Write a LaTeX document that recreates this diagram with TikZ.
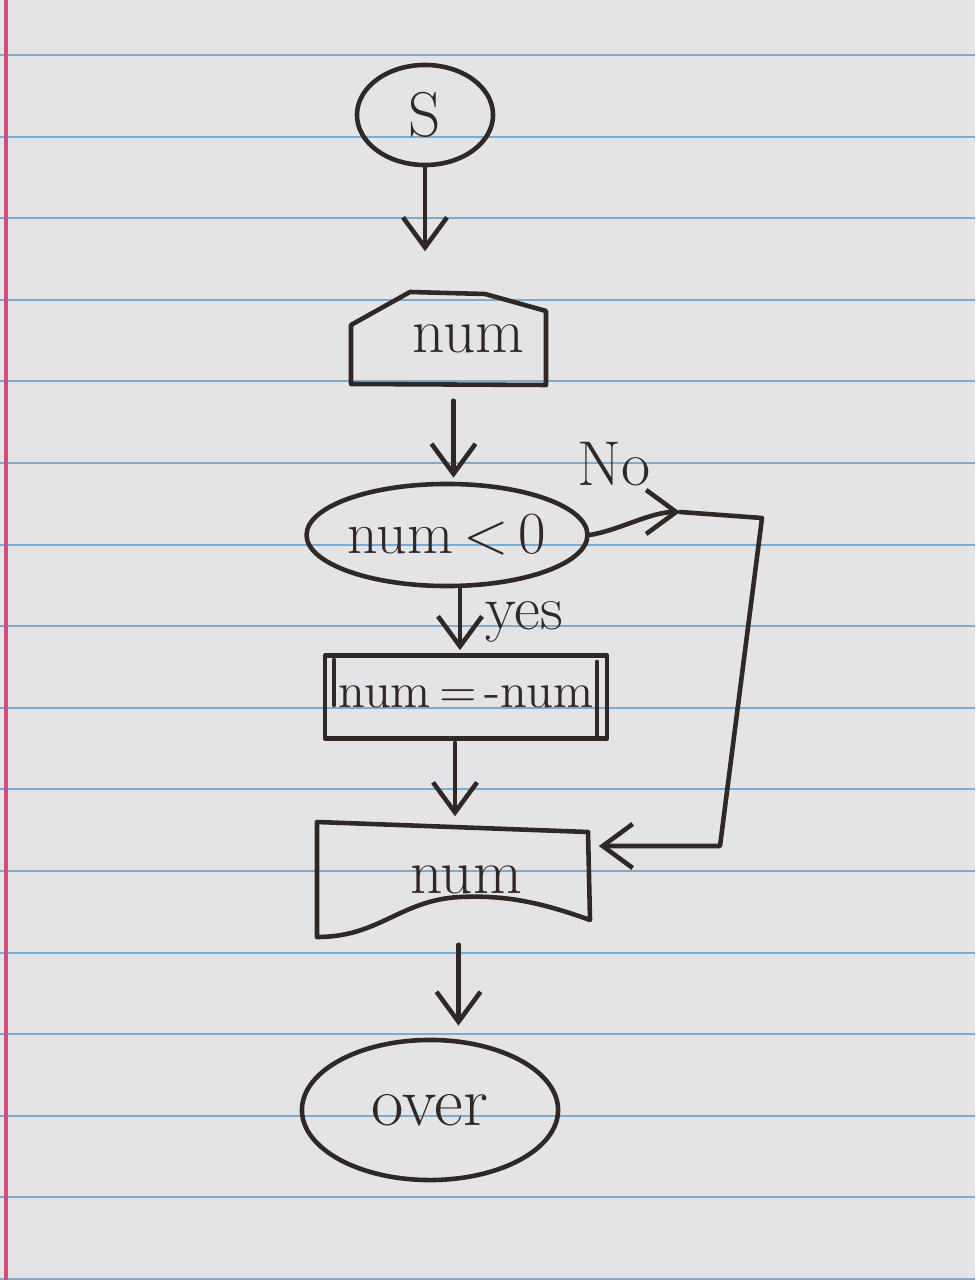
\documentclass[tikz,border=0pt]{standalone}
\usetikzlibrary{arrows.meta,shapes.geometric,calc}
\definecolor{paper}{RGB}{228,228,230}
\definecolor{rulecol}{RGB}{125,170,208}
\definecolor{margincol}{RGB}{205,80,128}
\definecolor{ink}{RGB}{48,40,38}
\tikzset{
  inkline/.style={draw=ink, line width=1.3pt, line join=round, line cap=round},
  term/.style={ellipse, inkline, inner sep=0pt, text=ink},
  txt/.style={text=ink, font=\fontsize{18}{22}\selectfont},
  arr/.style={inkline, -{Straight Barb[length=3mm,width=4.4mm]}},
}
\begin{document}
\begin{tikzpicture}[x=0.01cm,y=-0.01cm]
\useasboundingbox (0,0) rectangle (975,1280);
\fill[paper] (0,0) rectangle (975,1280);
\foreach \k in {0,...,15} \draw[rulecol, line width=0.6pt] (0,55+81.6*\k) -- (975,55+81.6*\k);
\draw[margincol, line width=1pt] (6,0) -- (6,1280);

% start
\node[term, txt, minimum width=1.36cm, minimum height=1.0cm] (start) at (425,115) {S};

% input
\node[txt, minimum width=1.95cm, minimum height=0.93cm, inner sep=0pt] (in) at (448.5,338.5) {\hspace{0.4cm}num};
\draw[inkline] (351,325) -- (410,292) -- (485,294) -- (546,311) -- (546,385) -- (351,384) -- cycle;

% decision
\node[term, txt, font=\fontsize{17}{20}\selectfont, minimum width=2.8cm, minimum height=1.02cm] (dec) at (447,535) {num\,<\,0};

% process
\node[inkline, rectangle, text=ink, font=\fontsize{14}{17}\selectfont, minimum width=2.82cm, minimum height=0.83cm, inner sep=0pt] (proc) at (466,697) {num\,=\,-num};
\draw[inkline] (597,662) -- (597,735);
\draw[inkline] (334,660) -- (334,705);

% output (document)
\node[txt, minimum width=2.73cm, minimum height=1.15cm, inner sep=0pt] (out) at (453.5,879.5) {\hspace{0.25cm}num};
\draw[inkline] (317,822) -- (588,832) -- (590,920) .. controls (540,902) and (505,895) .. (460,897) .. controls (400,900) and (380,937) .. (317,937) -- cycle;

% end
\node[term, font=\fontsize{20}{24}\selectfont, minimum width=2.56cm, minimum height=1.4cm] (end) at (430,1110) {over};

% labels
\node[txt] (no) at (614,464) {No};
\node[txt] (yes) at (524,622) {yes};

% connectors
\draw[arr, shorten >=0.4cm] (start.south) -- (start.south |- in.north);
\draw[arr, shorten <=0.15cm, shorten >=0.04cm] ([xshift=0.05cm]in.south) -- ([xshift=0.05cm]in.south |- dec.north);
\draw[arr, shorten >=0.03cm] ([xshift=0.13cm]dec.south) -- ([xshift=0.13cm]dec.south |- proc.north);
\draw[arr, shorten <=0.02cm, shorten >=0.05cm] ([xshift=-0.11cm]proc.south) -- ([xshift=-0.11cm]proc.south |- out.north);
\draw[arr, shorten <=0.07cm, shorten >=0.12cm] ([xshift=0.05cm]out.south) -- ([xshift=0.05cm]out.south |- end.north);

\coordinate (nomid) at (680,512);
\coordinate (c1) at (762,518);
\coordinate (c2) at (720,846);
\draw[arr] (dec.east) .. controls (620,530) and (650,512) .. (nomid);
\draw[arr, shorten >=0.08cm] (nomid) -- (c1) -- (c2) -- (c2 -| out.east);
\end{tikzpicture}
\end{document}
